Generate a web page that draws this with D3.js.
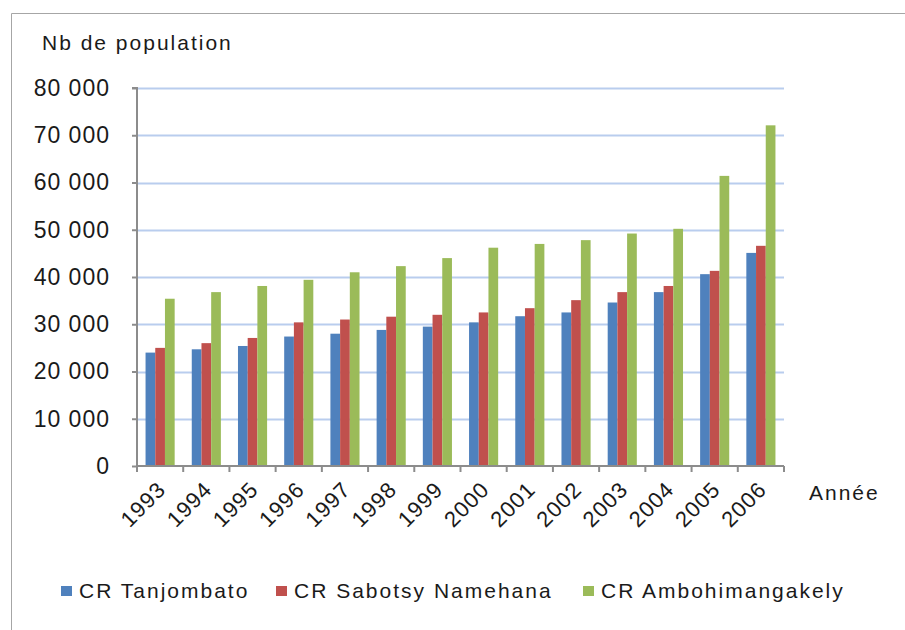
<!DOCTYPE html>
<html>
<head>
<meta charset="utf-8">
<script src="https://cdn.jsdelivr.net/npm/d3@7"></script>
<style>
  body { margin: 0; background: #fff; }
  text { font-family: "Liberation Sans", Arial, sans-serif; fill: #1a1a1a; letter-spacing: 2px; }
</style>
</head>
<body>
<svg id="chart" width="905" height="630"></svg>
<script>
// values
var years = ["1993","1994","1995","1996","1997","1998","1999","2000","2001","2002","2003","2004","2005","2006"];
var seriesNames = ["CR Tanjombato", "CR Sabotsy Namehana", "CR Ambohimangakely"];
var tanjombato = [24000, 24700, 25400, 27400, 28000, 28800, 29500, 30400, 31700, 32500, 34600, 36800, 40600, 45100];
var sabotsy    = [25000, 26000, 27100, 30400, 31000, 31600, 32000, 32500, 33400, 35100, 36800, 38100, 41300, 46600];
var ambohi     = [35400, 36800, 38100, 39400, 41000, 42300, 44000, 46200, 47000, 47800, 49200, 50200, 61400, 72100];
var yTicks = [0, 10000, 20000, 30000, 40000, 50000, 60000, 70000, 80000];
var colors = ["#4f81bd", "#c0504d", "#9bbb59"];

var allSeries = [tanjombato, sabotsy, ambohi];
var rows = years.map(function (y, i) {
    return { year: y, values: allSeries.map(function (s, k) { return { key: k, value: s[i] }; }) };
});

var svg = d3.select("#chart");

// outer frame (only top and left edges show)
svg.append("path")
    .attr("d", "M11.5,630 V13.5 H905")
    .attr("fill", "none")
    .attr("stroke", "#a6a6a6");

var plotLeft = 137, plotRight = 784, plotTop = 88, plotBottom = 466;

var x0 = d3.scaleBand().domain(years).range([plotLeft, plotRight]).padding(0);
var bw = x0.bandwidth();
var x1 = d3.scaleBand().domain([0, 1, 2]).range([bw * 0.185, bw * 0.815]).padding(0);
var y = d3.scaleLinear().domain([0, 80000]).range([plotBottom, plotTop]);

// gridlines
svg.append("g")
    .selectAll("line")
    .data(yTicks.filter(function (d) { return d > 0; }))
    .enter().append("line")
    .attr("x1", plotLeft).attr("x2", plotRight)
    .attr("y1", function (d) { return Math.round(y(d)) + 0.5; })
    .attr("y2", function (d) { return Math.round(y(d)) + 0.5; })
    .attr("stroke", "#b9cdee")
    .attr("stroke-width", 2);

// bars
var groups = svg.append("g")
    .selectAll("g")
    .data(rows)
    .enter().append("g")
    .attr("transform", function (d) { return "translate(" + x0(d.year) + ",0)"; });

groups.selectAll("rect")
    .data(function (d) { return d.values; })
    .enter().append("rect")
    .attr("x", function (d) { return x1(d.key); })
    .attr("width", x1.bandwidth())
    .attr("y", function (d) { return y(d.value); })
    .attr("height", function (d) { return y(0) - y(d.value); })
    .attr("fill", function (d) { return colors[d.key]; });

// y axis
var yAxis = svg.append("g")
    .attr("transform", "translate(" + plotLeft + ",0)")
    .call(d3.axisLeft(y).tickValues(yTicks).tickSize(5).tickPadding(22)
        .tickFormat(function (d) { return d3.format(",")(d).replace(/,/g, " "); }));
yAxis.attr("font-size", null).attr("font-family", null);
yAxis.select(".domain").attr("stroke", "#8c8c8c").attr("stroke-width", 2)
    .attr("d", "M-5," + plotTop + "H0V" + (plotBottom + 5));
yAxis.selectAll(".tick line").attr("stroke", "#8c8c8c").attr("stroke-width", 2);
yAxis.selectAll("text")
    .style("font-size", "23px")
    .style("letter-spacing", "1px")
    .style("fill", "#1a1a1a");

// x axis
var xAxis = svg.append("g")
    .attr("transform", "translate(0," + plotBottom + ")");
xAxis.append("line")
    .attr("x1", plotLeft).attr("x2", plotRight)
    .attr("stroke", "#8c8c8c").attr("stroke-width", 2);
xAxis.selectAll(".xt")
    .data(years.concat(["end"]))
    .enter().append("line")
    .attr("class", "xt")
    .attr("x1", function (d, i) { return plotLeft + i * bw; })
    .attr("x2", function (d, i) { return plotLeft + i * bw; })
    .attr("y1", 0).attr("y2", 6)
    .attr("stroke", "#8c8c8c").attr("stroke-width", 2);
xAxis.selectAll(".yl")
    .data(years)
    .enter().append("text")
    .attr("class", "yl")
    .style("font-size", "22px")
    .style("letter-spacing", "1px")
    .attr("text-anchor", "end")
    .attr("transform", function (d) {
        return "translate(" + (x0(d) + bw / 2 + 7) + ",25) rotate(-45)";
    })
    .text(function (d) { return d; });

// axis titles
svg.append("text").attr("x", 42).attr("y", 50).style("font-size", "21px").text("Nb de population");
svg.append("text").attr("x", 809).attr("y", 500).style("font-size", "21px").text("Ann\u00e9e");

// legend
var legendX = [61, 276, 583];
var legend = svg.append("g")
    .selectAll("g")
    .data(seriesNames)
    .enter().append("g")
    .attr("transform", function (d, i) { return "translate(" + legendX[i] + ",586)"; });
legend.append("rect")
    .attr("width", 11).attr("height", 10)
    .attr("fill", function (d, i) { return colors[i]; });
legend.append("text")
    .attr("x", 18).attr("y", 12)
    .style("font-size", "21px")
    .text(function (d) { return d; });
</script>
</body>
</html>
